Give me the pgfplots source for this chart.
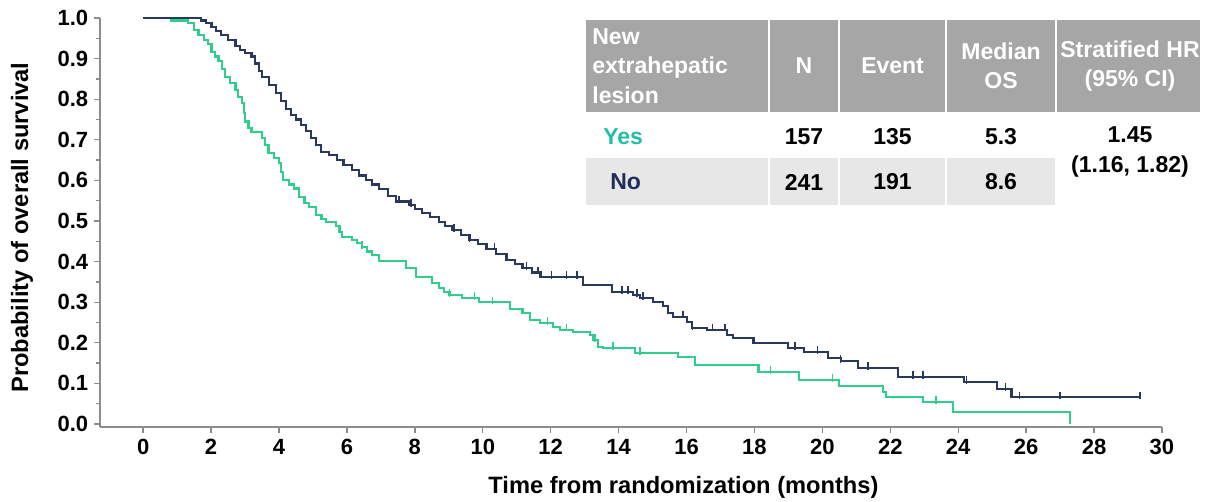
\documentclass[border=0pt]{standalone}
\usepackage{pgfplots}
\usepackage{pgfplotstable}
\pgfplotsset{compat=1.18}
\usepackage{fontspec}
\setmainfont{Liberation Sans}

\definecolor{navyline}{RGB}{42,56,92}
\definecolor{greenline}{RGB}{48,205,140}
\definecolor{yesteal}{RGB}{35,190,165}
\definecolor{nonavy}{RGB}{30,45,90}
\definecolor{headgray}{RGB}{166,166,166}
\definecolor{rowgray}{RGB}{231,231,231}
\definecolor{axisgray}{RGB}{140,140,140}

\pgfplotstableread{
t s
0 1.000
1.71 0.994
1.85 0.988
2.01 0.978
2.15 0.968
2.28 0.958
2.50 0.945
2.72 0.932
2.85 0.922
3.01 0.914
3.19 0.905
3.30 0.888
3.40 0.870
3.49 0.855
3.70 0.835
3.90 0.815
4.05 0.795
4.20 0.775
4.35 0.762
4.49 0.750
4.65 0.737
4.79 0.722
4.95 0.705
5.10 0.688
5.23 0.670
5.47 0.663
5.70 0.650
5.90 0.638
6.15 0.626
6.35 0.612
6.56 0.600
6.75 0.590
6.95 0.579
7.20 0.562
7.45 0.548
7.83 0.539
8.00 0.530
8.22 0.520
8.45 0.509
8.72 0.498
8.90 0.488
9.10 0.478
9.35 0.465
9.61 0.453
9.85 0.443
10.11 0.432
10.40 0.418
10.70 0.404
10.95 0.394
11.17 0.384
11.45 0.373
11.70 0.362
12.95 0.342
13.80 0.325
14.43 0.318
14.63 0.310
15.02 0.300
15.31 0.290
15.46 0.273
15.61 0.264
16.02 0.251
16.17 0.236
16.61 0.232
17.20 0.219
17.38 0.212
17.97 0.200
18.98 0.187
19.45 0.177
20.16 0.163
20.54 0.155
21.05 0.138
22.23 0.116
24.18 0.103
25.13 0.086
25.57 0.066
29.35 0.066
}\navydata

\pgfplotstableread{
t s
0 1.000
0.83 0.994
1.33 0.987
1.50 0.970
1.63 0.958
1.80 0.945
1.92 0.935
2.01 0.916
2.12 0.905
2.22 0.895
2.32 0.875
2.42 0.855
2.55 0.840
2.72 0.823
2.80 0.805
2.90 0.790
2.96 0.765
3.01 0.745
3.10 0.730
3.19 0.719
3.49 0.705
3.60 0.688
3.69 0.667
3.85 0.655
3.99 0.643
4.05 0.620
4.12 0.601
4.30 0.590
4.45 0.580
4.58 0.559
4.75 0.545
4.88 0.534
5.08 0.515
5.25 0.505
5.38 0.498
5.68 0.488
5.78 0.472
5.85 0.461
6.15 0.453
6.30 0.445
6.44 0.436
6.60 0.425
6.74 0.416
6.95 0.402
7.74 0.384
8.04 0.362
8.50 0.348
8.72 0.335
8.85 0.325
9.02 0.318
9.40 0.310
9.90 0.300
10.79 0.283
11.17 0.273
11.38 0.256
11.68 0.249
12.06 0.239
12.27 0.232
12.65 0.227
13.15 0.219
13.24 0.207
13.39 0.190
13.54 0.187
14.48 0.175
15.76 0.165
16.26 0.145
18.12 0.128
19.30 0.108
20.48 0.094
21.79 0.079
21.87 0.067
22.97 0.054
23.85 0.030
27.28 0.000
}\greendata

\pgfplotstableread{
t s
7.54 0.548
7.89 0.539
9.16 0.478
9.61 0.453
10.35 0.432
11.29 0.384
11.62 0.373
12.03 0.362
12.47 0.362
12.77 0.362
14.10 0.325
14.28 0.325
14.54 0.318
14.72 0.310
15.90 0.264
16.17 0.236
16.76 0.232
17.14 0.232
19.20 0.187
19.86 0.177
20.54 0.155
21.34 0.138
22.67 0.116
22.97 0.116
24.24 0.103
25.39 0.086
25.80 0.066
26.99 0.066
29.35 0.066
}\navycens

\pgfplotstableread{
t s
6.44 0.436
9.02 0.318
9.75 0.310
10.29 0.300
11.90 0.249
12.47 0.232
13.30 0.207
13.83 0.187
14.63 0.175
18.47 0.128
20.30 0.108
23.35 0.054
}\greencens

\begin{document}
\begin{tikzpicture}
\begin{axis}[
  scale only axis,
  width=637.2pt, height=245.4pt,
  xmin=-1.27, xmax=30, ymin=-0.0074, ymax=1.0,
  axis lines=left,
  axis line style={draw=axisgray, line width=0.8pt, -},
  xtick={0,2,4,6,8,10,12,14,16,18,20,22,24,26,28,30},
  ytick={0,0.1,0.2,0.3,0.4,0.5,0.6,0.7,0.8,0.9,1.0},
  minor y tick num=1,
  tick align=outside,
  major tick length=3.6pt, minor tick length=2.4pt,
  tick style={draw=axisgray, line width=0.8pt},
  /pgf/number format/assume math mode=true,
  yticklabel style={/pgf/number format/fixed, /pgf/number format/fixed zerofill, /pgf/number format/precision=1},
  ticklabel style={font=\fontsize{13.2}{15}\selectfont\bfseries},
  xlabel={Time from randomization (months)},
  ylabel={Probability of overall survival},
  label style={font=\fontsize{14.2}{17}\selectfont\bfseries},
  xlabel style={at={(axis description cs:0.5494,-0.1467)}, anchor=center},
  ylabel style={at={(axis description cs:-0.0734,0.4878)}, anchor=center},
  clip=false,
]
\addplot[const plot, draw=greenline, line width=1.3pt] table[x=t, y=s] {\greendata};
\addplot[const plot, draw=navyline, line width=1.3pt] table[x=t, y=s] {\navydata};
\addplot[only marks, mark=|, mark size=2.2pt, mark options={draw=greenline, line width=0.9pt, yshift=1.2pt}] table[x=t, y=s] {\greencens};
\addplot[only marks, mark=|, mark size=2.2pt, mark options={draw=navyline, line width=0.9pt, yshift=1.2pt}] table[x=t, y=s] {\navycens};

% table
\fill[headgray] (rel axis cs:0.4576,0.7702) rectangle (rel axis cs:0.6290,0.9951);
\fill[headgray] (rel axis cs:0.6309,0.7702) rectangle (rel axis cs:0.6949,0.9951);
\fill[headgray] (rel axis cs:0.6968,0.7702) rectangle (rel axis cs:0.7957,0.9951);
\fill[headgray] (rel axis cs:0.7976,0.7702) rectangle (rel axis cs:0.8992,0.9951);
\fill[headgray] (rel axis cs:0.9011,0.7702) rectangle (rel axis cs:1.0358,0.9951);
\fill[rowgray] (rel axis cs:0.4576,0.5428) rectangle (rel axis cs:0.6290,0.6577);
\fill[rowgray] (rel axis cs:0.6309,0.5428) rectangle (rel axis cs:0.6949,0.6577);
\fill[rowgray] (rel axis cs:0.6968,0.5428) rectangle (rel axis cs:0.7957,0.6577);
\fill[rowgray] (rel axis cs:0.7976,0.5428) rectangle (rel axis cs:0.8992,0.6577);

\begin{scope}[every node/.style={font=\fontsize{13.8}{17.6}\selectfont\bfseries, inner sep=0pt}]
\node[anchor=west, align=left, text=white] at (rel axis cs:0.4633,0.8826) {New\\extrahepatic\\lesion};
\node[text=white] at (rel axis cs:0.6629,0.8826) {N};
\node[text=white] at (rel axis cs:0.7463,0.8826) {Event};
\node[text=white, align=center] at (rel axis cs:0.8484,0.8826) {Median\\OS};
\node[text=white, align=center] at (rel axis cs:0.9699,0.8826) {Stratified HR\\(95\% CI)};
\node[anchor=west, text=yesteal] at (rel axis cs:0.4736,0.7090) {Yes};
\node at (rel axis cs:0.6629,0.7090) {157};
\node at (rel axis cs:0.7463,0.7090) {135};
\node at (rel axis cs:0.8484,0.7090) {5.3};
\node[anchor=west, text=nonavy] at (rel axis cs:0.4802,0.5990) {No};
\node at (rel axis cs:0.6629,0.5990) {241};
\node at (rel axis cs:0.7463,0.5990) {191};
\node at (rel axis cs:0.8484,0.5990) {8.6};
\node[align=center] at (rel axis cs:0.9699,0.6724) {1.45\\(1.16, 1.82)};
\end{scope}

\coordinate (BL) at (rel axis cs:-0.0942,-0.1834);
\coordinate (TR) at (rel axis cs:1.0471,1.0440);
\end{axis}
\pgfresetboundingbox
\useasboundingbox (BL) rectangle (TR);
\end{tikzpicture}
\end{document}
